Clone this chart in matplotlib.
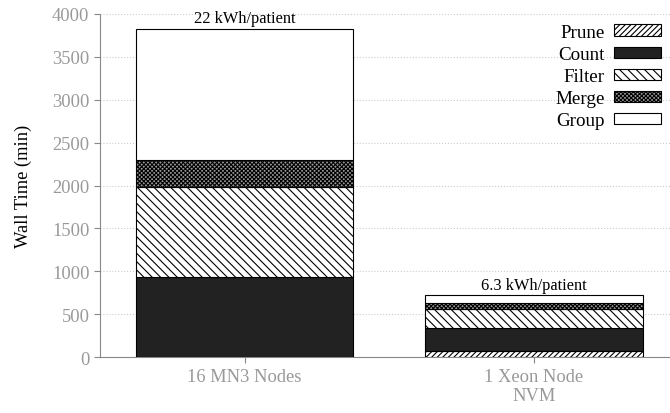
import matplotlib.pyplot as plt
import numpy as np

plt.rcParams['font.family'] = ['Liberation Serif', 'DejaVu Serif']
plt.rcParams['hatch.linewidth'] = 0.8

systems = ['16 MN3 Nodes', '1 Xeon Node\nNVM']
stages = ['Prune', 'Count', 'Filter', 'Merge', 'Group']
prune = [5, 70]
count = [930, 268]
filt = [1047, 222]
merge = [315, 70]
group = [1528, 93]
energy = ['22 kWh/patient', '6.3 kWh/patient']

styles = {
    'Prune': dict(color='white', hatch='//////'),
    'Count': dict(color='#222222', hatch=None),
    'Filter': dict(color='white', hatch='\\\\\\\\'),
    'Merge': dict(color='#999999', hatch='xxxxxxxx'),
    'Group': dict(color='white', hatch=None),
}

fig = plt.figure(figsize=(6.7, 4.14), dpi=100)
ax = fig.add_axes([0.149, 0.135, 0.851, 0.829])

x = np.arange(len(systems))
bottom = np.zeros(len(systems))
handles = []
for name, vals in zip(stages, [prune, count, filt, merge, group]):
    st = styles[name]
    b = ax.bar(x, vals, 0.75, bottom=bottom, color=st['color'], hatch=st['hatch'],
               edgecolor='black', linewidth=0.8, label=name, zorder=3)
    handles.append(b)
    bottom += np.array(vals)

for xi, top, txt in zip(x, bottom, energy):
    ax.text(xi, top + 30, txt, ha='center', va='bottom', fontsize=11.8, zorder=4)

ax.set_xlim(-0.5, 1.47)
ax.set_ylim(0, 4000)
ax.set_yticks(range(0, 4001, 500))
ax.set_xticks(x)
ax.set_xticklabels(systems)
ax.set_ylabel('Wall Time (min)', fontsize=13.3, labelpad=14)

ax.grid(axis='y', linestyle=':', color='#cccccc', linewidth=0.8, zorder=0)
for s in ['top', 'right']:
    ax.spines[s].set_visible(False)
for s in ['left', 'bottom']:
    ax.spines[s].set_color('#888888')
ax.tick_params(colors='#888888', labelsize=13.3, length=4, labelcolor='#999999')

leg = fig.legend(handles=handles, labels=stages, loc='upper right',
                 bbox_to_anchor=(0.9866, 0.94), frameon=False, fontsize=13.7,
                 markerfirst=False, handlelength=2.45, handleheight=0.55,
                 labelspacing=0.27, handletextpad=0.5, borderpad=0,
                 borderaxespad=0)
for t in leg.get_texts():
    t.set_ha('right')

fig.savefig('out.png', dpi=100)
